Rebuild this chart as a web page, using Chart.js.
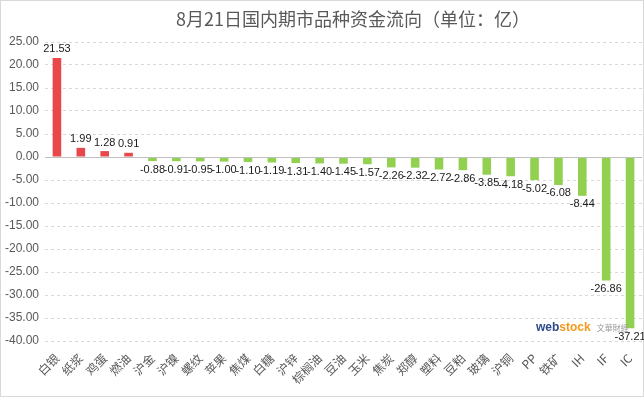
<!DOCTYPE html>
<html>
<head>
<meta charset="utf-8">
<script src="https://cdn.jsdelivr.net/npm/chart.js@4.4.1/dist/chart.umd.min.js"></script>
<style>
    html, body { margin: 0; padding: 0; background: #fff; }
    #wrap { position: relative; width: 644px; height: 397px; }
    #title { position: absolute; left: 173px; top: 5px; width: 360px; text-align: center; font: 18px "Noto Sans CJK SC", sans-serif; color: #595959; white-space: nowrap; }
    #mark { position: absolute; left: 536px; top: 320px; font: bold 12px Arial, "Liberation Sans", sans-serif; white-space: nowrap; }
    #mark .w { color: #2e4a8c; }
    #mark .s { color: #f39a1e; }
    #mark .c { color: #9a9a9a; font: 8px "Noto Sans CJK TC", sans-serif; margin-left: 6px; }
</style>
</head>
<body>
<div id="wrap">
    <canvas id="c" width="644" height="397"></canvas>
    <div id="title">8月21日国内期市品种资金流向（单位：亿）</div>
    <div id="mark"><span class="w">web</span><span class="s">stock</span><span class="c">文華財經</span></div>
</div>
<script>
const CATEGORIES = ['白银','纸浆','鸡蛋','燃油','沪金','沪镍','螺纹','苹果','焦煤','白糖','沪锌','棕榈油','豆油','玉米','焦炭','郑醇','塑料','豆粕','玻璃','沪铜','PP','铁矿','IH','IF','IC'];
const FLOWS = [21.53, 1.99, 1.28, 0.91, -0.88, -0.91, -0.95, -1.00, -1.10, -1.19, -1.31, -1.40, -1.45, -1.57, -2.26, -2.32, -2.72, -2.86, -3.85, -4.18, -5.02, -6.08, -8.44, -26.86, -37.21];
const Y_MIN = -40, Y_MAX = 25, Y_STEP = 5;

const RED = '#e8484c', GREEN = '#92d050';

// frame + zero line + value labels
const extras = {
    id: 'extras',
    beforeDraw(chart) {
        const ctx = chart.ctx;
        ctx.save();
        ctx.strokeStyle = '#d9d9d9';
        ctx.lineWidth = 1;
        ctx.strokeRect(0.5, 0.5, chart.width - 1, chart.height - 1);
        ctx.restore();
    },
    afterDatasetsDraw(chart) {
        const ctx = chart.ctx, area = chart.chartArea;
        const y0 = Math.round(chart.scales.y.getPixelForValue(0)) + 0.5;
        ctx.save();
        ctx.strokeStyle = '#bfbfbf';
        ctx.lineWidth = 1;
        ctx.beginPath();
        ctx.moveTo(area.left, y0);
        ctx.lineTo(area.right, y0);
        ctx.stroke();
        ctx.font = '11px "Liberation Sans", Arial, sans-serif';
        ctx.fillStyle = '#1a1a1a';
        ctx.textAlign = 'center';
        chart.getDatasetMeta(0).data.forEach((bar, i) => {
            const v = FLOWS[i];
            if (v >= 0) {
                ctx.textBaseline = 'bottom';
                ctx.fillText(v.toFixed(2), bar.x, bar.y - 3);
            } else {
                ctx.textBaseline = 'top';
                ctx.fillText(v.toFixed(2), bar.x, bar.y + 3);
            }
        });
        ctx.restore();
    }
};

new Chart(document.getElementById('c'), {
    type: 'bar',
    data: {
        labels: CATEGORIES,
        datasets: [{
            data: FLOWS,
            backgroundColor: FLOWS.map(v => v >= 0 ? RED : GREEN),
            barPercentage: 0.36,
            categoryPercentage: 1
        }]
    },
    options: {
        responsive: false,
        animation: false,
        layout: { padding: { top: 42, right: 2, left: 0, bottom: 0 } },
        plugins: { legend: { display: false }, tooltip: { enabled: false }, title: { display: false } },
        scales: {
            x: {
                grid: { display: false },
                border: { display: false },
                ticks: {
                    color: '#595959',
                    font: { size: 12, family: '"Noto Sans CJK SC", sans-serif' },
                    maxRotation: 45, minRotation: 45, autoSkip: false, padding: 2
                },
                afterFit: s => { s.height = 56; }
            },
            y: {
                min: Y_MIN, max: Y_MAX,
                grid: { color: '#d9d9d9', drawTicks: false },
                border: { display: false, dash: [3, 3] },
                ticks: {
                    stepSize: Y_STEP,
                    color: '#595959',
                    font: { size: 12, family: '"Liberation Sans", Arial, sans-serif' },
                    padding: 6,
                    callback: v => v.toFixed(2)
                },
                afterFit: s => { s.width = 45; }
            }
        }
    },
    plugins: [extras]
});
</script>
</body>
</html>
